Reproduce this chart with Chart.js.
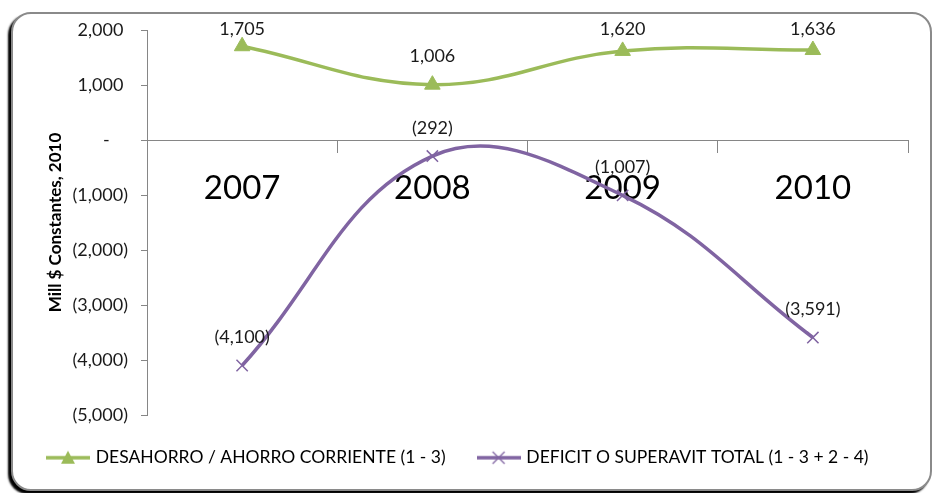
<!DOCTYPE html>
<html>
<head>
<meta charset="utf-8">
<title>Desahorro / Deficit</title>
<script src="https://cdn.jsdelivr.net/npm/chart.js@4/dist/chart.umd.min.js"></script>
<style>
  html, body { margin:0; padding:0; background:#fff; }
  #frame {
    position:absolute; left:11px; top:12px; width:917px; height:475px;
    border:2px solid #8a8a8a; border-radius:20px;
    box-shadow:-3px 3px 2px #000;
    background:#fff;
  }
  #chart { position:absolute; left:0; top:0; }
</style>
</head>
<body>
<div id="frame"></div>
<canvas id="chart" width="933" height="493"></canvas>
<script>
// values (Mill $ constantes 2010)
const years = ['2007', '2008', '2009', '2010'];
const ahorroCorriente = [1705, 1006, 1620, 1636];
const deficitTotal = [-4100, -292, -1007, -3591];
const yTicks = [2000, 1000, 0, -1000, -2000, -3000, -4000, -5000];

const GREEN = '#9bbb59';
const PURPLE = '#8064a2';
const AXIS = '#868686';
const FONT = 'Lato, "Open Sans", sans-serif';

function fmtNum(v){
  const s = Math.abs(v).toLocaleString('en-US');
  if(v === 0) return '-    ';
  return v < 0 ? '(' + s + ')' : s + ' ';
}

// little legend swatch: line with the series marker on it
function legendSwatch(color, marker){
  const c = document.createElement('canvas');
  c.width = 44; c.height = 16;
  const g = c.getContext('2d');
  g.strokeStyle = color; g.lineWidth = 3.5;
  g.beginPath(); g.moveTo(0, 8); g.lineTo(44, 8); g.stroke();
  if(marker === 'triangle'){
    g.fillStyle = color;
    g.beginPath(); g.moveTo(22, 1); g.lineTo(29, 14); g.lineTo(15, 14); g.closePath(); g.fill();
  } else {
    g.lineWidth = 1.3;
    g.beginPath(); g.moveTo(16, 2); g.lineTo(28, 14); g.moveTo(28, 2); g.lineTo(16, 14); g.stroke();
  }
  return c;
}

const dataLabels = {
  id: 'dataLabels',
  afterDatasetsDraw(chart){
    const ctx = chart.ctx;
    ctx.save();
    ctx.font = '18px ' + FONT;
    ctx.fillStyle = '#1a1a1a';
    ctx.textAlign = 'center';
    ctx.textBaseline = 'middle';
    chart.data.datasets.forEach((ds, i) => {
      const meta = chart.getDatasetMeta(i);
      meta.data.forEach((pt, j) => {
        const y = Math.max(pt.y - 28, chart.chartArea.top - 1);
        ctx.fillText(fmtNum(ds.data[j]).trim(), pt.x, y);
      });
    });
    ctx.restore();
  }
};

new Chart(document.getElementById('chart'), {
  type: 'line',
  data: {
    labels: years,
    datasets: [
      {
        label: 'DESAHORRO / AHORRO CORRIENTE (1 - 3)',
        data: ahorroCorriente,
        borderColor: GREEN, backgroundColor: GREEN,
        borderWidth: 3.5, tension: 0.4,
        pointStyle: 'triangle', pointRadius: 9, pointBorderWidth: 1,
        pointBackgroundColor: GREEN, pointBorderColor: GREEN
      },
      {
        label: 'DEFICIT O SUPERAVIT TOTAL (1 - 3 + 2 - 4)',
        data: deficitTotal,
        borderColor: PURPLE, backgroundColor: PURPLE,
        borderWidth: 3.5, tension: 0.4,
        pointStyle: 'crossRot', pointRadius: 8, pointBorderWidth: 1.5,
        pointBorderColor: PURPLE
      }
    ]
  },
  options: {
    responsive: false,
    animation: false,
    layout: { padding: { top: 30, left: 15, right: 25, bottom: 16.5 } },
    scales: {
      x: {
        type: 'category',
        position: { y: 0 },
        offset: true,
        grid: { offset: true, drawOnChartArea: false, drawTicks: true, tickLength: 12, color: AXIS, lineWidth: 1 },
        border: { display: true, color: AXIS, width: 1 },
        ticks: { font: { family: FONT, size: 33 }, color: '#000', padding: 17, maxRotation: 0 }
      },
      y: {
        min: -5000, max: 2000,
        afterFit(scale){ scale.width = 132; },
        afterBuildTicks(scale){ scale.ticks = yTicks.map(v => ({ value: v })); },
        grid: { drawOnChartArea: false, drawTicks: true, tickLength: 6, color: AXIS },
        border: { display: true, color: AXIS, width: 1 },
        ticks: { font: { family: FONT, size: 18 }, color: '#1a1a1a', padding: 13, callback: v => fmtNum(v) },
        title: {
          display: true, text: 'Mill $ Constantes, 2010', color: '#000',
          font: { family: FONT, size: 17, weight: 'bold' },
          padding: { top: 30, bottom: 0 }
        }
      }
    },
    plugins: {
      tooltip: { enabled: false },
      legend: {
        position: 'bottom',
        align: 'start',
        labels: {
          usePointStyle: true,
          pointStyleWidth: 38,
          padding: 34,
          color: '#000',
          font: { family: FONT, size: 17.5 },
          generateLabels(chart){
            return chart.data.datasets.map((ds, i) => ({
              text: ds.label,
              datasetIndex: i,
              fontColor: '#000',
              pointStyle: legendSwatch(ds.borderColor, i === 0 ? 'triangle' : 'x'),
              lineWidth: 0,
              strokeStyle: 'transparent',
              fillStyle: 'transparent'
            }));
          }
        }
      }
    }
  },
  plugins: [dataLabels]
});
</script>
</body>
</html>
